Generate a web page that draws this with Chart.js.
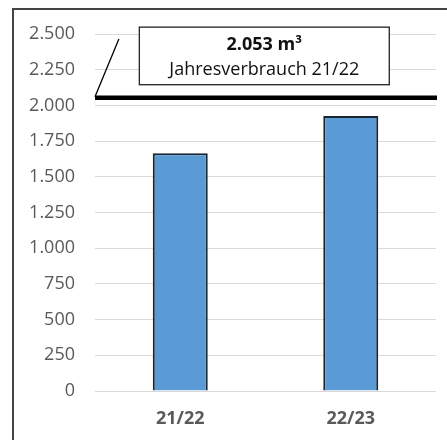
<!DOCTYPE html>
<html>
<head>
<meta charset="utf-8">
<script src="https://cdn.jsdelivr.net/npm/chart.js@4/dist/chart.umd.min.js"></script>
<style>
  html, body { margin: 0; padding: 0; background: #fff; }
  #wrap { position: relative; width: 447px; height: 440px; }
</style>
</head>
<body>
<div id="wrap"><canvas id="c" width="447" height="440"></canvas></div>
<script>
const categories = ['21/22', '22/23'];
const consumption = [1665, 1926];
const referenceValue = 2053;
const referenceLabel = ['2.053 m³', 'Jahresverbrauch 21/22'];
const yTicks = [0, 250, 500, 750, 1000, 1250, 1500, 1750, 2000, 2250, 2500];

const fmt = v => String(v).replace(/\B(?=(\d{3})+(?!\d))/g, '.');
const FONT = '"Open Sans", sans-serif';

const overlay = {
  id: 'overlay',
  beforeDraw(chart) {
    const ctx = chart.ctx;
    ctx.save();
    ctx.fillStyle = '#fff';
    ctx.fillRect(0, 0, chart.width, chart.height);
    ctx.strokeStyle = '#444';
    ctx.lineWidth = 2;
    ctx.beginPath();
    ctx.moveTo(13, chart.height);
    ctx.lineTo(13, 9);
    ctx.lineTo(chart.width, 9);
    ctx.stroke();
    ctx.restore();
  },
  afterDatasetsDraw(chart) {
    const ctx = chart.ctx;
    const y = chart.scales.y;
    const a = chart.chartArea;
    const yl = y.getPixelForValue(referenceValue);
    ctx.save();
    // reference line
    ctx.strokeStyle = '#000';
    ctx.lineWidth = 4.5;
    ctx.beginPath();
    ctx.moveTo(a.left, yl);
    ctx.lineTo(a.right + 1, yl);
    ctx.stroke();
    // leader line
    ctx.lineWidth = 1.3;
    ctx.beginPath();
    ctx.moveTo(a.left, yl - 1);
    ctx.lineTo(a.left + (a.right - a.left) * 0.07, y.getPixelForValue(2465));
    ctx.stroke();
    // label box
    const bx1 = a.left + (a.right - a.left) * 0.13;
    const bx2 = a.left + (a.right - a.left) * 0.863;
    const by1 = y.getPixelForValue(2548);
    const by2 = y.getPixelForValue(2145);
    ctx.fillStyle = '#fff';
    ctx.fillRect(bx1, by1, bx2 - bx1, by2 - by1);
    ctx.strokeStyle = '#222';
    ctx.lineWidth = 1.3;
    ctx.strokeRect(bx1, by1, bx2 - bx1, by2 - by1);
    ctx.fillStyle = '#111';
    ctx.textAlign = 'center';
    ctx.textBaseline = 'middle';
    const cx = (bx1 + bx2) / 2;
    ctx.font = 'bold 18px ' + FONT;
    ctx.fillText(referenceLabel[0], cx, by1 + 18);
    ctx.font = '18px ' + FONT;
    ctx.fillText(referenceLabel[1], cx, by1 + 43);
    ctx.restore();
  }
};

new Chart(document.getElementById('c'), {
  type: 'bar',
  data: {
    labels: categories,
    datasets: [{
      data: consumption,
      backgroundColor: '#5B9BD5',
      borderColor: '#1a2533',
      borderWidth: 2,
      barPercentage: 0.645,
      categoryPercentage: 0.5
    }]
  },
  options: {
    responsive: false,
    animation: false,
    devicePixelRatio: 1,
    layout: { padding: { left: 13, top: 34, right: 11, bottom: 0 } },
    plugins: { legend: { display: false }, tooltip: { enabled: false } },
    scales: {
      x: {
        grid: { display: false, drawTicks: false },
        border: { display: false },
        ticks: { color: '#595959', font: { family: FONT, size: 18, weight: 'bold' }, padding: 17 },
        afterFit(s) { s.height = 49; }
      },
      y: {
        min: 0, max: 2500,
        afterBuildTicks(s) { s.ticks = yTicks.map(v => ({ value: v })); },
        grid: { color: '#d9d9d9', lineWidth: 1, drawTicks: false },
        border: { display: false },
        ticks: { color: '#595959', font: { family: FONT, size: 18 }, padding: 20, callback: v => fmt(v) },
        afterFit(s) { s.width = 82; }
      }
    }
  },
  plugins: [overlay]
});
</script>
</body>
</html>
